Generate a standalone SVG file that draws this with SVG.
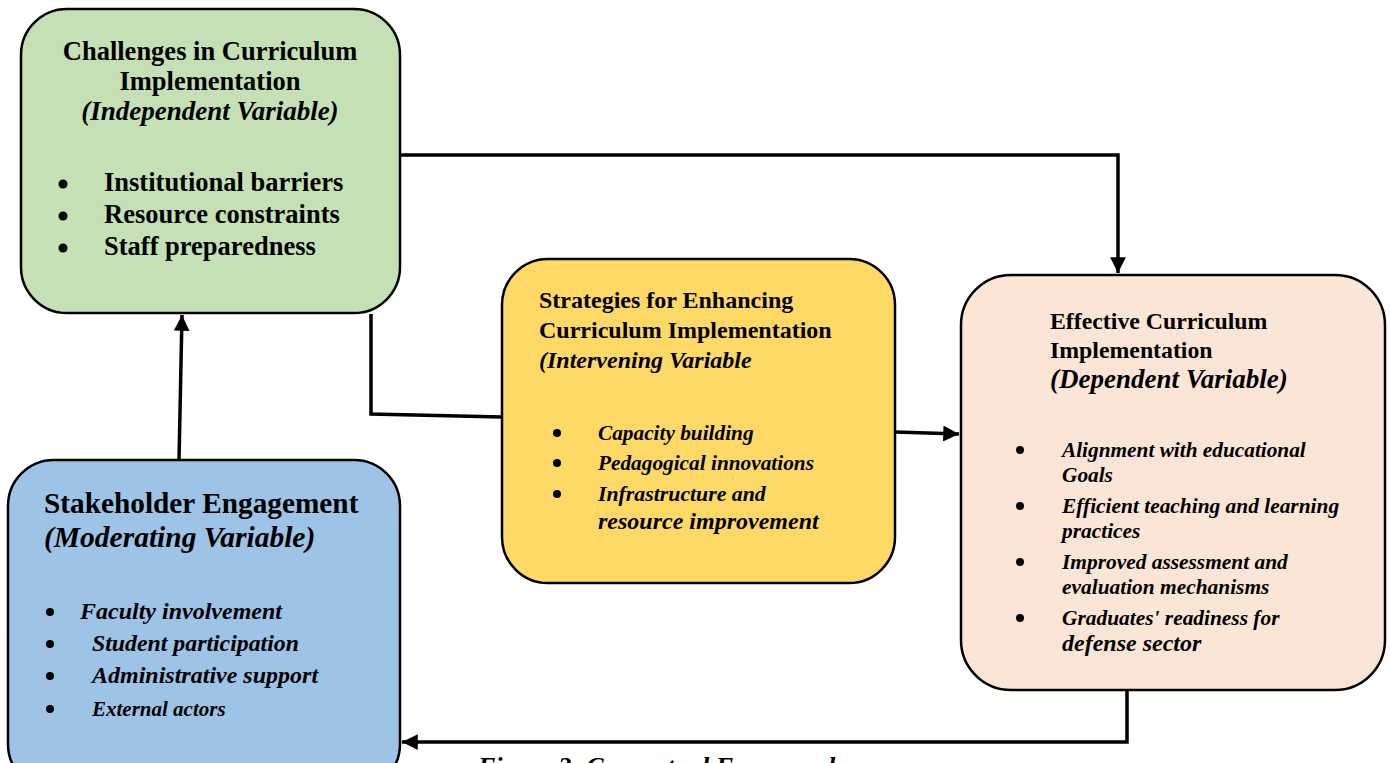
<svg xmlns="http://www.w3.org/2000/svg" width="1390" height="763" viewBox="0 0 1390 763">
<defs>
<style>
.box{stroke:#000;stroke-width:2.5}
text{font-family:"Liberation Serif","Times New Roman",serif;font-weight:bold;fill:#000}
.it{font-style:italic}
.conn{fill:none;stroke:#000;stroke-width:3.5}
.dot{fill:#000}
</style>
<marker id="ah" viewBox="0 0 10 10" refX="10" refY="5" markerWidth="4.5" markerHeight="4.5" orient="auto" markerUnits="strokeWidth">
<path d="M0,0 L10,5 L0,10 Z" fill="#000"/>
</marker>
</defs>
<rect width="1390" height="763" fill="#fff"/>
<g id="connectors">
<path class="conn" d="M400,155 H1118 V273" marker-end="url(#ah)"/>
<path class="conn" d="M371,314 V414 L502,417"/>
<path class="conn" d="M895,432 L959,434" marker-end="url(#ah)"/>
<path class="conn" d="M179,460 L182,315" marker-end="url(#ah)"/>
<path class="conn" d="M1127,690 V742 H402" marker-end="url(#ah)"/>
</g>
<g id="challenges">
<rect class="box" x="21" y="9" width="379" height="304" rx="46" fill="#C5E0B4"/>
<text x="210" y="60" font-size="26.5" text-anchor="middle">Challenges in Curriculum</text>
<text x="210" y="90" font-size="26.5" text-anchor="middle">Implementation</text>
<text x="210" y="120" font-size="27" text-anchor="middle" class="it">(Independent Variable)</text>
<circle class="dot" cx="63" cy="184" r="4.5"/>
<text x="104" y="191" font-size="26.5">Institutional barriers</text>
<circle class="dot" cx="63" cy="216" r="4.5"/>
<text x="104" y="223" font-size="26.5">Resource constraints</text>
<circle class="dot" cx="63" cy="248" r="4.5"/>
<text x="104" y="255" font-size="26.5">Staff preparedness</text>
</g>
<g id="stakeholder">
<rect class="box" x="8" y="460" width="392" height="330" rx="46" fill="#9DC3E6"/>
<text x="44" y="513" font-size="29.3">Stakeholder Engagement</text>
<text x="44" y="547" font-size="29.5" class="it">(Moderating Variable)</text>
<circle class="dot" cx="50" cy="612" r="4"/>
<text x="80" y="619" font-size="24" class="it">Faculty involvement</text>
<circle class="dot" cx="50" cy="644" r="4"/>
<text x="92" y="651" font-size="23.8" class="it">Student participation</text>
<circle class="dot" cx="50" cy="676" r="4"/>
<text x="92" y="683" font-size="24" class="it">Administrative support</text>
<circle class="dot" cx="50" cy="709" r="4"/>
<text x="92" y="716" font-size="21" class="it">External actors</text>
</g>
<g id="strategies">
<rect class="box" x="502" y="259" width="393" height="324" rx="46" fill="#FFD966"/>
<text x="539" y="308" font-size="24">Strategies for Enhancing</text>
<text x="539" y="338" font-size="24">Curriculum Implementation</text>
<text x="539" y="368" font-size="24" class="it">(Intervening Variable</text>
<circle class="dot" cx="557" cy="433" r="4"/>
<text x="598" y="440" font-size="21.3" class="it">Capacity building</text>
<circle class="dot" cx="557" cy="463" r="4"/>
<text x="598" y="470" font-size="21.3" class="it">Pedagogical innovations</text>
<circle class="dot" cx="557" cy="494" r="4"/>
<text x="598" y="501" font-size="21.8" class="it">Infrastructure and</text>
<text x="598" y="529" font-size="24" class="it">resource improvement</text>
</g>
<g id="effective">
<rect class="box" x="961" y="275" width="424" height="415" rx="50" fill="#FBE5D6"/>
<text x="1050" y="329" font-size="23.8">Effective Curriculum</text>
<text x="1050" y="358" font-size="23.8">Implementation</text>
<text x="1050" y="388" font-size="27" class="it">(Dependent Variable)</text>
<circle class="dot" cx="1020" cy="450" r="4"/>
<text x="1062" y="457" font-size="21.3" class="it">Alignment with educational</text>
<text x="1062" y="482" font-size="21.3" class="it">Goals</text>
<circle class="dot" cx="1020" cy="506" r="4"/>
<text x="1062" y="513" font-size="21.4" class="it">Efficient teaching and learning</text>
<text x="1062" y="538" font-size="21.4" class="it">practices</text>
<circle class="dot" cx="1020" cy="562" r="4"/>
<text x="1062" y="569" font-size="21.4" class="it">Improved assessment and</text>
<text x="1062" y="594" font-size="21.4" class="it">evaluation mechanisms</text>
<circle class="dot" cx="1020" cy="618" r="4"/>
<text x="1062" y="625" font-size="21.4" class="it">Graduates' readiness for</text>
<text x="1062" y="651" font-size="24" class="it">defense sector</text>
</g>
<text x="478" y="775" font-size="26" class="it">Figure 2: Conceptual Framework</text>
</svg>
